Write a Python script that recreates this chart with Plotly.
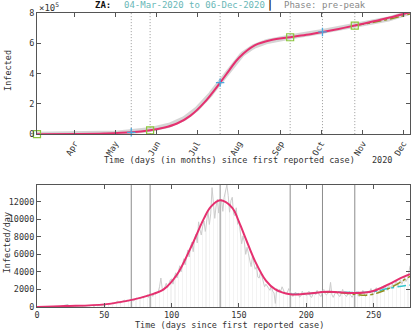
import numpy as np
import pandas as pd
import plotly.graph_objects as go

MONO = "DejaVu Sans Mono"
START = pd.Timestamp("2020-03-04")

# reported new cases per day, day 0 = 04-Mar-2020
daily_cases = [
    1, 0, 0, 2, 1, 3, 0, 6, 4, 10,
    13, 12, 24, 10, 30, 34, 52, 38, 90, 128,
    148, 155, 218, 300, 110, 93, 47, 73, 27, 82,
    80, 143, 96, 52, 74, 84, 76, 92, 106, 99,
    145, 178, 87, 105, 251, 186, 143, 165, 124, 142,
    138, 297, 354, 247, 318, 343, 432, 353, 447, 595,
    663, 511, 424, 610, 698, 792, 595, 818, 663, 760,
    880, 740, 690, 960, 1010, 920, 1100, 950, 1180, 1030,
    1250, 1160, 1400, 1080, 1300, 1500, 1210, 1590, 1450, 1680,
    1720, 2300, 3300, 2100, 1900, 2450, 2700, 2200, 2800, 3100,
    3200, 2600, 3400, 3900, 3300, 4200, 4700, 4000, 5000, 5500,
    4800, 5800, 6500, 5700, 6900, 7400, 6300, 7800, 8300, 7300,
    9700, 8800, 8200, 9200, 9800, 8600, 9900, 10900, 9400, 10600,
    13600, 11300, 10100, 11500, 12300, 10700, 12000, 12300, 10900, 12500,
    13300, 13900, 12700, 10800, 12100, 12500, 10600, 10400, 11300, 9400,
    9800, 8600, 7200, 8100, 7400, 6000, 6800, 6100, 5300, 4600,
    5800, 5100, 4300, 4600, 3400, 3300, 4000, 3500, 2900, 2300,
    2600, 2400, 2100, 1900, 2400, 1800, 1600, 400, 2100, 1700,
    2000, 1800, 2300, 1900, 1600, 1500, 1700, 2100, 1800, 1500,
    1200, 1500, 1700, 1400, 1600, 1100, 1300, 1800, 1500, 1600,
    1300, 1600, 1800, 1200, 1100, 1500, 1700, 1400, 1900, 1600,
    1300, 1200, 1800, 2000, 1500, 1400, 1600, 1700, 2800, 1400,
    1100, 1500, 1800, 1600, 1300, 1200, 1700, 2000, 1500, 1400,
    1200, 1600, 1800, 1300, 1100, 1400, 1500, 1700, 1400, 1200,
    1300, 1600, 1900, 1500, 1200, 1500, 1800, 1700, 2100, 1600,
    1400, 2000, 2200, 1800, 1700, 2100, 2300, 1900, 2500, 2200,
    1900, 2500, 2400, 2100, 2700, 2300, 2600, 3000, 2400, 2800,
    3100, 2600, 3000, 3400, 2900, 3200, 3800, 4700,
]

# smoothed model fit, per day
fit_days = [0, 21, 50, 72, 83, 94, 104, 114, 124, 129, 136, 145, 150, 155,
            162, 170, 177, 188, 199, 216, 236, 249, 261, 270, 277]
fit_daily = [0, 100, 300, 870, 1320, 2000, 3700, 6700, 10100, 11400, 12150,
             11300, 9700, 7800, 5200, 3000, 2000, 1450, 1500, 1740, 1590,
             1800, 2570, 3300, 3750]

# smoothed model fit, cumulative
fit_cum_days = [0, 30, 50, 70, 84, 94, 104, 114, 124, 136, 143, 150, 162,
                174, 188, 200, 212, 224, 236, 250, 262, 277]
fit_cum = [0, 1000, 4000, 12000, 26000, 42000, 70000, 122000, 206000,
           340000, 425000, 505000, 588000, 622000, 640000, 656000, 675000,
           695000, 717000, 745000, 770000, 806000]

# alternative fits over the last phases
cyan_days = [188, 200, 212, 224, 236, 250, 262, 277]
cyan_daily = [1450, 1500, 1700, 1700, 1650, 1750, 2150, 2500]
olive_days = [212, 224, 236, 245, 255, 265, 277]
olive_daily = [1720, 1650, 1450, 1350, 1700, 2400, 3500]
olive_cum_days = [236, 250, 262, 277]
olive_cum = [717000, 739000, 760000, 794000]

# phase boundaries and markers
event_days = [70, 84, 136, 188, 212, 236]
square_days = [0, 84, 188, 236]
square_cum = [0, 25000, 640000, 717000]
plus_days = [70, 136, 212]
plus_cum = [12000, 340000, 675000]

month_ticks = ["2020-04-01", "2020-05-01", "2020-06-01", "2020-07-01",
               "2020-08-01", "2020-09-01", "2020-10-01", "2020-11-01",
               "2020-12-01"]
month_labels = ["Apr", "May", "Jun", "Jul", "Aug", "Sep", "Oct", "Nov", "Dec"]


def to_date(days):
    return START + pd.to_timedelta(days, unit="D")


MAGENTA = "#e5306f"
GREEN = "#8cc63e"
BLUE = "#4aa8de"
CYAN = "#33c4cc"
OLIVE = "#8f8f1e"

days = np.arange(len(daily_cases))
cum_cases = np.cumsum(daily_cases)

fig = go.Figure()

# ---- top: cumulative
fig.add_trace(go.Scatter(x=to_date(days), y=cum_cases, mode="lines",
                         line=dict(color="rgba(150,150,150,0.4)", width=5),
                         xaxis="x", yaxis="y"))
fig.add_trace(go.Scatter(x=to_date(olive_cum_days), y=olive_cum, mode="lines",
                         line=dict(color=OLIVE, width=1.5, dash="dashdot", shape="spline"),
                         xaxis="x", yaxis="y"))
fig.add_trace(go.Scatter(x=to_date(fit_cum_days), y=fit_cum, mode="lines",
                         line=dict(color=MAGENTA, width=2, shape="spline"),
                         xaxis="x", yaxis="y"))
fig.add_trace(go.Scatter(x=to_date(square_days), y=square_cum, mode="markers",
                         marker=dict(symbol="square-open", size=7, color=GREEN,
                                     line=dict(width=1.2, color=GREEN)),
                         xaxis="x", yaxis="y", cliponaxis=False))
fig.add_trace(go.Scatter(x=to_date(plus_days), y=plus_cum, mode="markers",
                         marker=dict(symbol="cross-thin-open", size=6, color=BLUE,
                                     line=dict(width=1.3, color=BLUE)),
                         xaxis="x", yaxis="y", cliponaxis=False))

# ---- bottom: daily
fig.add_trace(go.Bar(x=days, y=daily_cases, width=0.3,
                     marker=dict(color="rgba(190,190,190,0.18)", line_width=0),
                     xaxis="x2", yaxis="y2"))
fig.add_trace(go.Scatter(x=days, y=daily_cases, mode="lines",
                         line=dict(color="#cccccc", width=1),
                         xaxis="x2", yaxis="y2"))
fig.add_trace(go.Scatter(x=cyan_days, y=cyan_daily, mode="lines",
                         line=dict(color=CYAN, width=1.5, dash="dashdot", shape="spline"),
                         xaxis="x2", yaxis="y2"))
fig.add_trace(go.Scatter(x=olive_days, y=olive_daily, mode="lines",
                         line=dict(color=OLIVE, width=1.5, dash="dashdot", shape="spline"),
                         xaxis="x2", yaxis="y2"))
fig.add_trace(go.Scatter(x=fit_days, y=fit_daily, mode="lines",
                         line=dict(color=MAGENTA, width=2, shape="spline"),
                         xaxis="x2", yaxis="y2"))

shapes = []
for d in event_days:
    shapes.append(dict(type="line", xref="x", yref="y domain",
                       x0=to_date(d), x1=to_date(d), y0=0, y1=1, layer="below",
                       line=dict(color="#999999", width=1, dash="1px,2px")))
    shapes.append(dict(type="line", xref="x2", yref="y2 domain",
                       x0=d, x1=d, y0=0, y1=1, layer="below",
                       line=dict(color="#8c8c8c", width=1)))

axis_style = dict(showline=True, linecolor="#555", linewidth=1, mirror="allticks",
                  ticks="inside", ticklen=4, tickcolor="#555", showgrid=False,
                  zeroline=False, automargin=False,
                  tickfont=dict(family=MONO, size=8.5, color="#333"))

fig.update_layout(
    width=415, height=330, autosize=False,
    margin=dict(l=37, r=5, t=13, b=23),
    paper_bgcolor="white", plot_bgcolor="white",
    showlegend=False, bargap=0,
    font=dict(family=MONO, size=8.5, color="#333"),
    shapes=shapes,
    xaxis=dict(axis_style, domain=[0, 1], anchor="y", type="date",
               range=[to_date(0), to_date(277)], tickvals=month_ticks,
               ticktext=month_labels, tickangle=-60),
    yaxis=dict(axis_style, domain=[0.588, 1], anchor="x", range=[0, 800000],
               tickvals=[0, 200000, 400000, 600000, 800000],
               ticktext=["0", "2", "4", "6", "8"]),
    xaxis2=dict(axis_style, domain=[0, 1], anchor="y2", range=[0, 277],
                tick0=0, dtick=50, tickformat="d"),
    yaxis2=dict(axis_style, domain=[0, 0.415], anchor="x2", range=[0, 13900],
                tick0=0, dtick=2000, tickformat="d"),
)

ann = [
    dict(text="<b>ZA:</b>", x=0.150, y=1.027, xanchor="left",
         font=dict(family=MONO, size=9, color="#111")),
    dict(text="04-Mar-2020 to 06-Dec-2020", x=0.228, y=1.027, xanchor="left",
         font=dict(family=MONO, size=9, color="#6ab7b7")),
    dict(text="<b>|</b>", x=0.625, y=1.027, xanchor="center",
         font=dict(family=MONO, size=10, color="#111")),
    dict(text="Phase: pre-peak", x=0.657, y=1.027, xanchor="left",
         font=dict(family=MONO, size=9, color="#888")),
    dict(text="×10<sup>5</sup>", x=0.0, y=1.022, xanchor="left",
         font=dict(family=MONO, size=9, color="#333")),
    dict(text="Time (days (in months) since first reported case)", x=0.515, y=0.50,
         xanchor="center", font=dict(family=MONO, size=8.5, color="#333")),
    dict(text="2020", x=0.925, y=0.50, xanchor="center",
         font=dict(family=MONO, size=8.5, color="#333")),
    dict(text="Time (days since first reported case)", x=0.515, y=-0.061,
         xanchor="center", font=dict(family=MONO, size=8.5, color="#333")),
    dict(text="Infected", x=-0.078, y=0.806, textangle=-90, xanchor="center",
         font=dict(family=MONO, size=8.5, color="#333")),
    dict(text="Infected/day", x=-0.082, y=0.218, textangle=-90, xanchor="center",
         font=dict(family=MONO, size=8.5, color="#333")),
]
for a in ann:
    a.update(xref="paper", yref="paper", yanchor="middle", showarrow=False)
fig.update_layout(annotations=ann)

fig.write_html("out.html", config={"displayModeBar": False},
               post_script="document.body.style.margin='0';")
